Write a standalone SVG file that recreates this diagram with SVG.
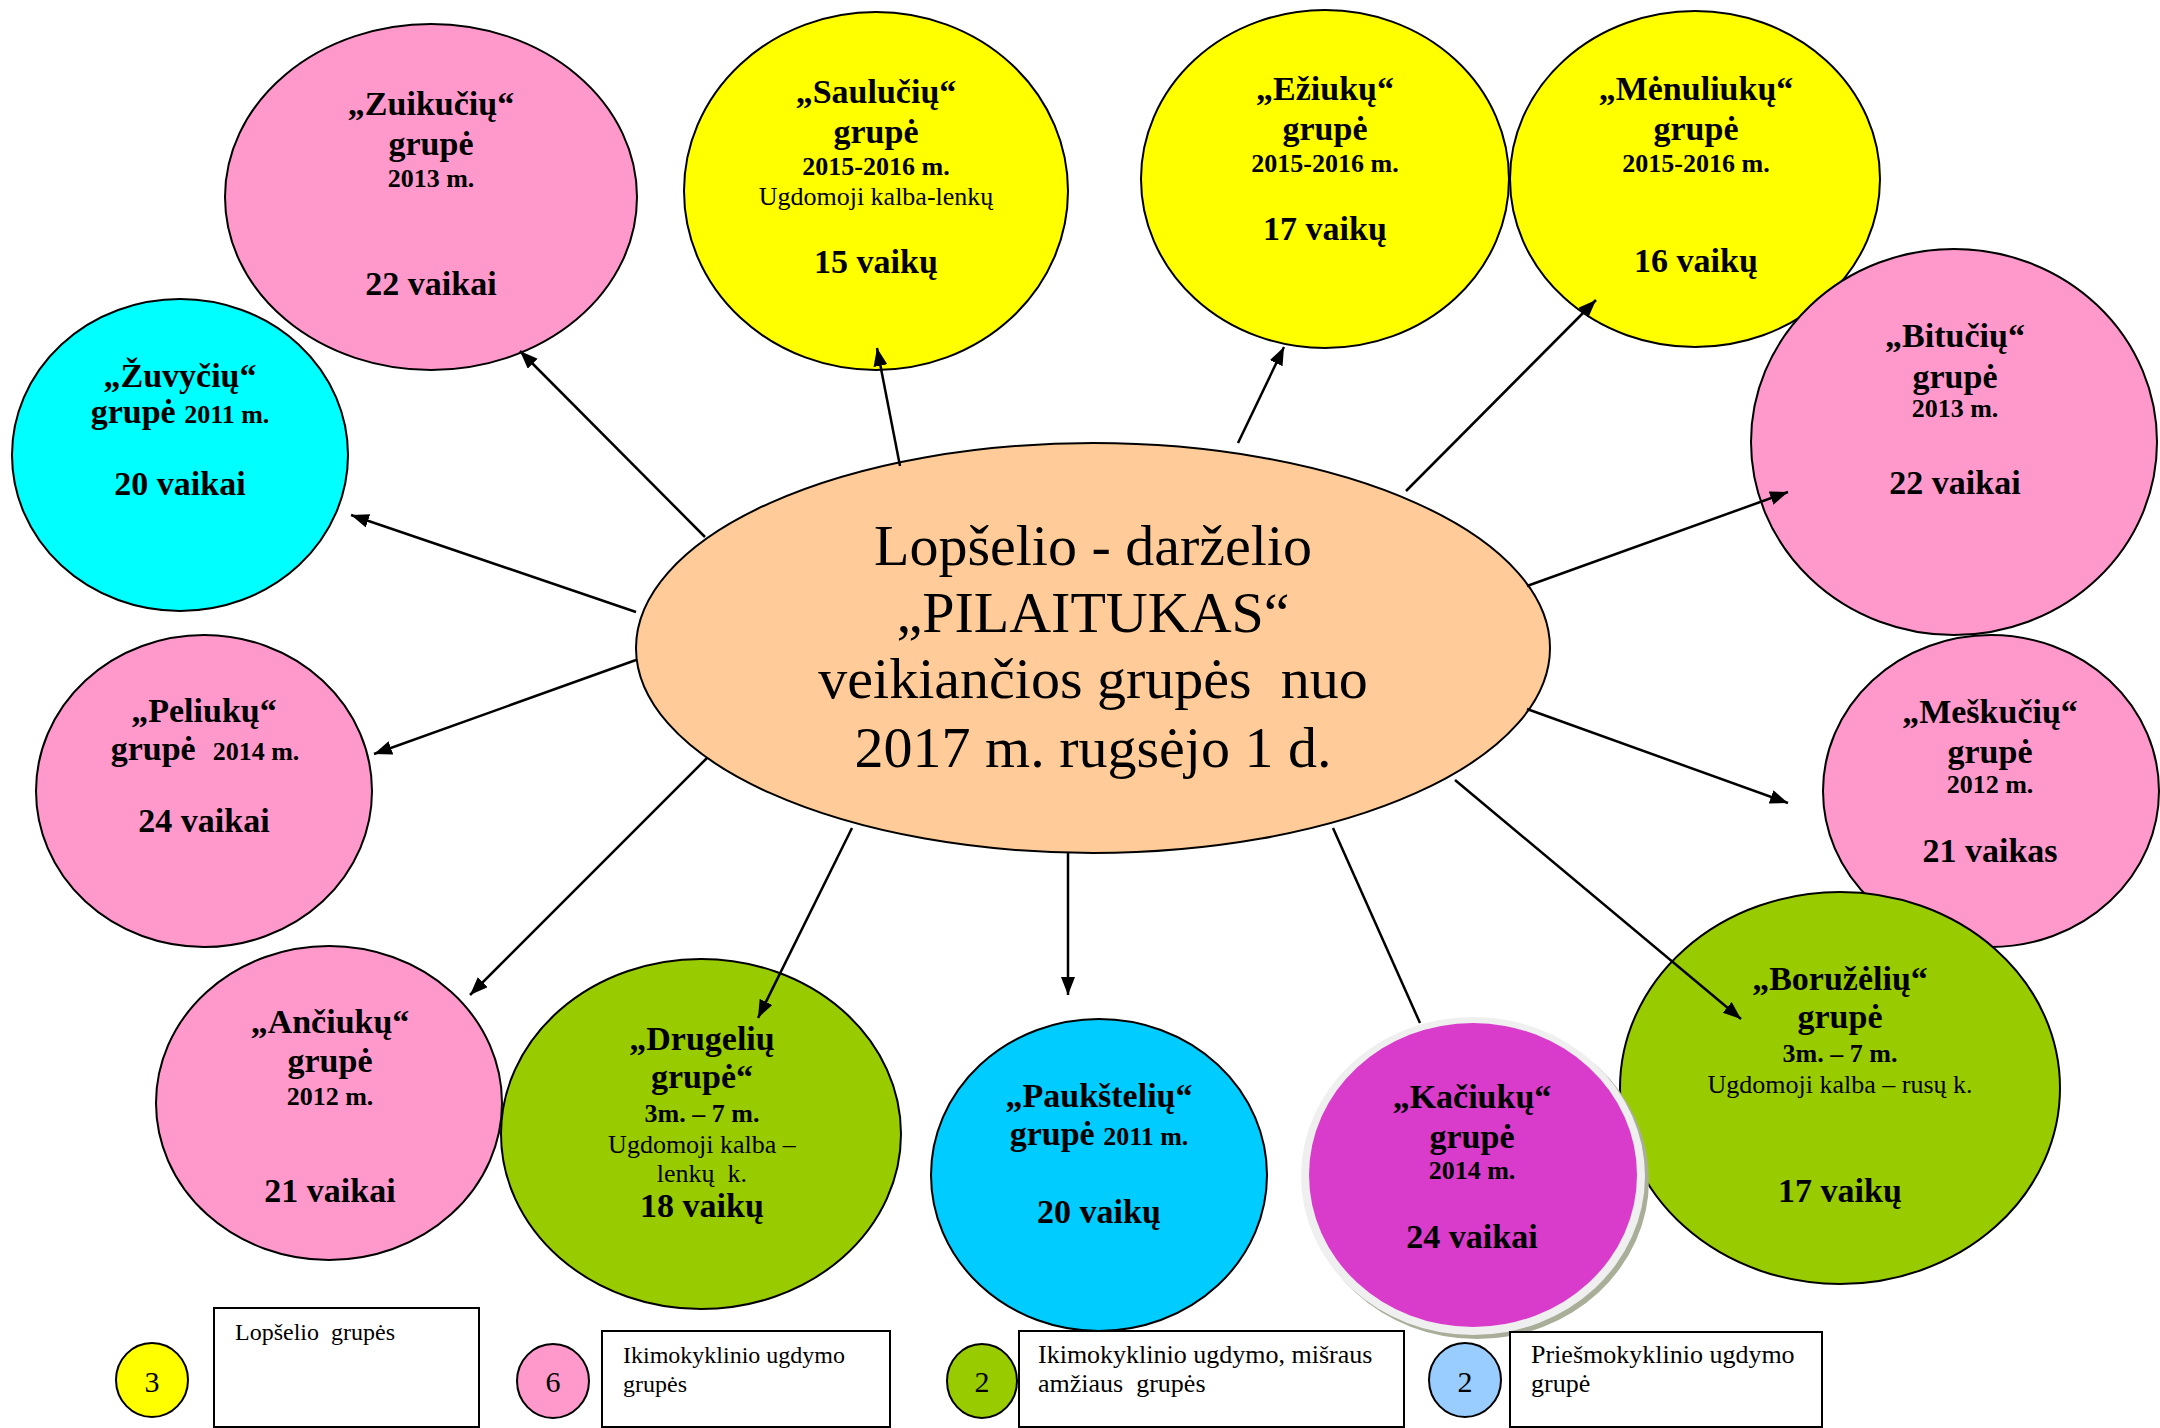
<svg xmlns="http://www.w3.org/2000/svg" width="2160" height="1428" viewBox="0 0 2160 1428">
<style>
.n{stroke:#000;stroke-width:2}
.pink{fill:#FF99CC}.yel{fill:#FFFF00}.cyan{fill:#00FFFF}.blue{fill:#00CCFF}.green{fill:#99CC00}.lblue{fill:#99CCFF}
text{font-family:"Liberation Serif","Times New Roman",serif;fill:#000;text-anchor:middle}
.t{font-size:34px;font-weight:bold}
.y{font-size:26px;font-weight:bold}
.r{font-size:26px}
.c{font-size:58px}
.lg{font-size:24px;text-anchor:start}
.lg2{font-size:26px;text-anchor:start}
.num{font-size:30px}
.conn line{stroke:#000;stroke-width:2.5}
</style>
<defs>
<marker id="ah" markerUnits="userSpaceOnUse" markerWidth="20" markerHeight="16" refX="18" refY="7" orient="auto"><path d="M0,0 L18,7 L0,14 z" fill="#000"/></marker>
</defs>
<rect width="2160" height="1428" fill="#fff"/>

<g id="zuikuciu">
<ellipse class="n pink" cx="431" cy="197" rx="206" ry="173"/>
<text x="431" y="115" class="t">„Zuikučių“</text>
<text x="431" y="155" class="t">grupė</text>
<text x="431" y="187" class="y">2013 m.</text>
<text x="431" y="295" class="t">22 vaikai</text>
</g>
<g id="zuvyciu">
<ellipse class="n cyan" cx="180" cy="455" rx="168" ry="156"/>
<text x="180" y="387" class="t">„Žuvyčių“</text>
<text x="180" y="423" class="t">grupė <tspan class="y">2011 m.</tspan></text>
<text x="180" y="495" class="t">20 vaikai</text>
</g>
<g id="sauluciu">
<ellipse class="n yel" cx="876" cy="191" rx="192" ry="179"/>
<text x="876" y="103" class="t">„Saulučių“</text>
<text x="876" y="143" class="t">grupė</text>
<text x="876" y="175" class="y">2015-2016 m.</text>
<text x="876" y="205" class="r">Ugdomoji kalba-lenkų</text>
<text x="876" y="273" class="t">15 vaikų</text>
</g>
<g id="eziuku">
<ellipse class="n yel" cx="1325" cy="179" rx="184" ry="169"/>
<text x="1325" y="100" class="t">„Ežiukų“</text>
<text x="1325" y="140" class="t">grupė</text>
<text x="1325" y="172" class="y">2015-2016 m.</text>
<text x="1325" y="240" class="t">17 vaikų</text>
</g>
<g id="menuliuku">
<ellipse class="n yel" cx="1695" cy="179" rx="185" ry="168"/>
<text x="1696" y="100" class="t">„Mėnuliukų“</text>
<text x="1696" y="140" class="t">grupė</text>
<text x="1696" y="172" class="y">2015-2016 m.</text>
<text x="1696" y="272" class="t">16 vaikų</text>
</g>
<g id="bituciu">
<ellipse class="n pink" cx="1954" cy="442" rx="203" ry="193"/>
<text x="1955" y="347" class="t">„Bitučių“</text>
<text x="1955" y="388" class="t">grupė</text>
<text x="1955" y="417" class="y">2013 m.</text>
<text x="1955" y="494" class="t">22 vaikai</text>
</g>
<g id="meskuciu">
<ellipse class="n pink" cx="1991" cy="791" rx="168" ry="156"/>
<text x="1990" y="723" class="t">„Meškučių“</text>
<text x="1990" y="763" class="t">grupė</text>
<text x="1990" y="793" class="y">2012 m.</text>
<text x="1990" y="862" class="t">21 vaikas</text>
</g>
<g id="boruzeliu">
<ellipse class="n green" cx="1840" cy="1088" rx="220" ry="196"/>
<text x="1840" y="990" class="t">„Boružėlių“</text>
<text x="1840" y="1028" class="t">grupė</text>
<text x="1840" y="1062" class="y">3m. – 7 m.</text>
<text x="1840" y="1093" class="r">Ugdomoji kalba – rusų k.</text>
<text x="1840" y="1202" class="t">17 vaikų</text>
</g>
<g id="kaciuku">
<ellipse cx="1477" cy="1180" rx="172" ry="159" fill="#A8AE98"/>
<ellipse cx="1473" cy="1176" rx="172" ry="159" fill="#EFEFEF"/>
<ellipse cx="1473" cy="1175" rx="164" ry="152" fill="#D93BCB"/>
<text x="1472" y="1108" class="t">„Kačiukų“</text>
<text x="1472" y="1148" class="t">grupė</text>
<text x="1472" y="1179" class="y">2014 m.</text>
<text x="1472" y="1248" class="t">24 vaikai</text>
</g>
<g id="pauksteliu">
<ellipse class="n blue" cx="1099" cy="1175" rx="168" ry="156"/>
<text x="1099" y="1107" class="t">„Paukštelių“</text>
<text x="1099" y="1145" class="t">grupė <tspan class="y">2011 m.</tspan></text>
<text x="1099" y="1223" class="t">20 vaikų</text>
</g>
<g id="drugeliu">
<ellipse class="n green" cx="701" cy="1134" rx="200" ry="175"/>
<text x="702" y="1050" class="t">„Drugelių</text>
<text x="702" y="1088" class="t">grupė“</text>
<text x="702" y="1122" class="y">3m. – 7 m.</text>
<text x="702" y="1153" class="r">Ugdomoji kalba –</text>
<text x="702" y="1182" class="r">lenkų&#160; k.</text>
<text x="702" y="1217" class="t">18 vaikų</text>
</g>
<g id="anciuku">
<ellipse class="n pink" cx="329" cy="1103" rx="173" ry="157"/>
<text x="330" y="1033" class="t">„Ančiukų“</text>
<text x="330" y="1072" class="t">grupė</text>
<text x="330" y="1105" class="y">2012 m.</text>
<text x="330" y="1202" class="t">21 vaikai</text>
</g>
<g id="peliuku">
<ellipse class="n pink" cx="204" cy="791" rx="168" ry="156"/>
<text x="204" y="722" class="t">„Peliukų“</text>
<text x="205" y="760" class="t">grupė&#160; <tspan class="y">2014 m.</tspan></text>
<text x="204" y="832" class="t">24 vaikai</text>
</g>
<g id="center">
<ellipse class="n" cx="1093" cy="648" rx="457" ry="205" fill="#FFCC99"/>
<text x="1093" y="565" class="c">Lopšelio - darželio</text>
<text x="1093" y="632" class="c">„PILAITUKAS“</text>
<text x="1093" y="698" class="c">veikiančios grupės&#160; nuo</text>
<text x="1093" y="767" class="c">2017 m. rugsėjo 1 d.</text>
</g>

<g id="connectors" class="conn">
<line x1="705" y1="537" x2="520" y2="351" marker-end="url(#ah)"/>
<line x1="900" y1="466" x2="877" y2="348" marker-end="url(#ah)"/>
<line x1="1238" y1="443" x2="1284" y2="347" marker-end="url(#ah)"/>
<line x1="1406" y1="491" x2="1596" y2="300" marker-end="url(#ah)"/>
<line x1="1527" y1="586" x2="1788" y2="492" marker-end="url(#ah)"/>
<line x1="1527" y1="709" x2="1788" y2="803" marker-end="url(#ah)"/>
<line x1="1455" y1="780" x2="1741" y2="1019" marker-end="url(#ah)"/>
<line x1="1333" y1="828" x2="1420" y2="1023"/>
<line x1="1068" y1="852" x2="1068" y2="995" marker-end="url(#ah)"/>
<line x1="852" y1="828" x2="758" y2="1018" marker-end="url(#ah)"/>
<line x1="707" y1="758" x2="470" y2="995" marker-end="url(#ah)"/>
<line x1="636" y1="660" x2="374" y2="754" marker-end="url(#ah)"/>
<line x1="636" y1="612" x2="351" y2="515" marker-end="url(#ah)"/>
</g>

<g id="legend">
<g id="leg-lopselio">
<ellipse class="n yel" cx="152" cy="1380" rx="36" ry="37"/>
<text x="152" y="1392" class="num">3</text>
<rect x="214" y="1308" width="265" height="119" fill="#fff" stroke="#000" stroke-width="2"/>
<text x="235" y="1340" class="lg">Lopšelio&#160; grupės</text>
</g>
<g id="leg-ikimokyklinio">
<ellipse class="n pink" cx="553" cy="1381" rx="36" ry="37"/>
<text x="553" y="1392" class="num">6</text>
<rect x="602" y="1331" width="288" height="96" fill="#fff" stroke="#000" stroke-width="2"/>
<text x="623" y="1363" class="lg">Ikimokyklinio ugdymo</text>
<text x="623" y="1392" class="lg">grupės</text>
</g>
<g id="leg-misraus">
<ellipse class="n green" cx="982" cy="1381" rx="35" ry="37"/>
<text x="982" y="1392" class="num">2</text>
<rect x="1019" y="1331" width="385" height="96" fill="#fff" stroke="#000" stroke-width="2"/>
<text x="1038" y="1363" class="lg2">Ikimokyklinio ugdymo, mišraus</text>
<text x="1038" y="1392" class="lg2">amžiaus&#160; grupės</text>
</g>
<g id="leg-priesmokyklinio">
<ellipse class="n lblue" cx="1465" cy="1380" rx="36" ry="37"/>
<text x="1465" y="1392" class="num">2</text>
<rect x="1510" y="1332" width="312" height="95" fill="#fff" stroke="#000" stroke-width="2"/>
<text x="1531" y="1363" class="lg2">Priešmokyklinio ugdymo</text>
<text x="1531" y="1392" class="lg2">grupė</text>
</g>
</g>
</svg>
